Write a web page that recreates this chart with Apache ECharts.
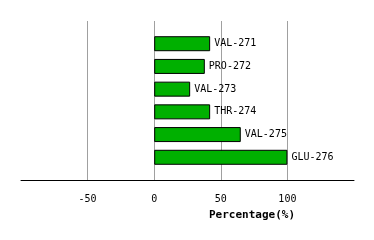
<!DOCTYPE html>
<html><head><meta charset="utf-8">
<script src="https://cdn.jsdelivr.net/npm/echarts@6/dist/echarts.min.js"></script>
<style>html,body{margin:0;padding:0;background:#fff}#c{width:374px;height:240px}</style>
</head><body><div id="c"></div>
<script>
var categories = ['VAL-271','PRO-272','VAL-273','THR-274','VAL-275','GLU-276'];
var values = [42, 38, 27, 42, 65, 100];
var axisTitle = 'Percentage(%)';

var cats = [''].concat(categories).concat(['']);
var vals = [null].concat(values).concat([null]);
var chart = echarts.init(document.getElementById('c'), null, {renderer:'canvas'});
chart.setOption({
  animation:false,
  backgroundColor:'#fff',
  grid:{left:21,right:20,top:21,bottom:60,containLabel:false},
  xAxis:{type:'value',min:-100,max:150,interval:50,
    axisLine:{show:true,onZero:false,lineStyle:{color:'#000',width:1}},
    axisTick:{show:false},
    axisLabel:{showMinLabel:false,showMaxLabel:false,color:'#000',fontFamily:'DejaVu Sans Mono',fontSize:10,margin:14},
    splitLine:{show:true,showMinLine:false,showMaxLine:false,lineStyle:{color:'#a0a0a0',width:1}}
  },
  yAxis:{type:'category',data:cats,inverse:true,boundaryGap:false,
    axisLine:{show:false},axisTick:{show:false},axisLabel:{show:false},splitLine:{show:false}},
  series:[{type:'bar',data:vals,barWidth:15,
    itemStyle:{color:'#00b000',borderColor:'#000',borderWidth:1},
    label:{show:true,position:'right',distance:4,color:'#000',fontFamily:'DejaVu Sans Mono',fontSize:10,
      formatter:function(p){return p.name;}}
  }],
  graphic:[{type:'text',left:254-45,top:210,style:{text:axisTitle,fill:'#000',font:'bold 11px "DejaVu Sans Mono"'}}]
});
</script></body></html>
